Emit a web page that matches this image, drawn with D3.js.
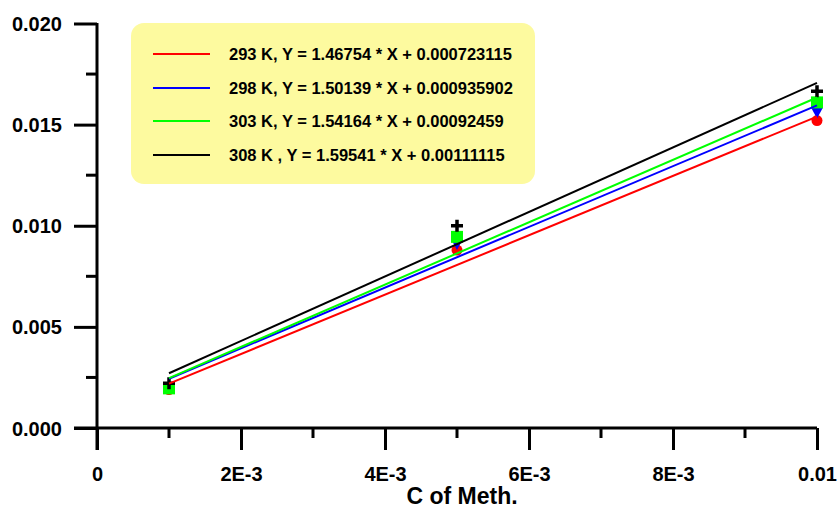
<!DOCTYPE html>
<html>
<head>
<meta charset="utf-8">
<script src="https://cdn.jsdelivr.net/npm/d3@7"></script>
<style>
  body { margin: 0; background: #fff; }
  text { font-family: Arial, "Liberation Sans", sans-serif; font-weight: bold; fill: #000; }
</style>
</head>
<body>
<svg id="chart" width="838" height="509"></svg>
<script>
// concentrations of Meth. (x)
const conc = [0.001, 0.005, 0.01]

// measured values per temperature
const temps = ['293 K', '298 K', '303 K', '308 K']
const vals293 = [0.0019, 0.0088, 0.0152]
const vals298 = [0.0020, 0.0091, 0.0156]
const vals303 = [0.00196, 0.00945, 0.0161]
const vals308 = [0.00221, 0.0100, 0.01665]

// fitted lines, slope and intercept
const slopes = [1.46754, 1.50139, 1.54164, 1.59541]
const intercepts = [0.000723115, 0.000935902, 0.00092459, 0.00111115]
const legendLabels = [
  '293 K, Y = 1.46754 * X + 0.000723115',
  '298 K, Y = 1.50139 * X + 0.000935902',
  '303 K, Y = 1.54164 * X + 0.00092459',
  '308 K , Y = 1.59541 * X + 0.00111115'
]

const xTicks = [0, 0.002, 0.004, 0.006, 0.008, 0.01]
const xTickLabels = ['0', '2E-3', '4E-3', '6E-3', '8E-3', '0.01']
const yTicks = [0, 0.005, 0.01, 0.015, 0.02]
const yTickLabels = ['0.000', '0.005', '0.010', '0.015', '0.020']

const colors = ['#ff0000', '#0000ff', '#00ff00', '#000000']
const symbols = ['circle', 'triangle', 'square', 'plus']
const allVals = [vals293, vals298, vals303, vals308]

const svg = d3.select('#chart')

let x = d3.scaleLinear().domain([0, 0.01]).range([97, 817])
let y = d3.scaleLinear().domain([0, 0.02]).range([428, 23.5])

// axes
const xAxis = svg.append('g').attr('transform', 'translate(0,428)')
xAxis.call(d3.axisBottom(x).tickValues(xTicks).tickSize(22).tickFormat((d, i) => xTickLabels[i]))
xAxis.selectAll('.tick').filter((d, i) => false)
xAxis.select('.domain').remove()
xAxis.append('line').attr('x1', 74).attr('x2', 817).attr('stroke', '#000').attr('stroke-width', 3)
xAxis.selectAll('.tick line').attr('stroke-width', 3)
xAxis.selectAll('.tick text').attr('y', 53).attr('dy', 0).style('font-size', '20px')
xAxis.selectAll('.minor').data(d3.range(0.001, 0.01, 0.002)).enter()
  .append('line')
  .attr('x1', d => x(d)).attr('x2', d => x(d))
  .attr('y1', 0).attr('y2', 10)
  .attr('stroke', '#000').attr('stroke-width', 3)

const yAxis = svg.append('g').attr('transform', 'translate(97,0)')
yAxis.call(d3.axisLeft(y).tickValues(yTicks).tickSize(23).tickFormat((d, i) => yTickLabels[i]))
yAxis.select('.domain').remove()
yAxis.append('line').attr('y1', 23).attr('y2', 450).attr('stroke', '#000').attr('stroke-width', 3)
yAxis.selectAll('.tick line').attr('stroke-width', 3)
yAxis.selectAll('.tick text').attr('x', -35).attr('dy', '0.35em').style('font-size', '20px')
yAxis.selectAll('.minor').data(d3.range(0.0025, 0.02, 0.005)).enter()
  .append('line')
  .attr('y1', d => y(d)).attr('y2', d => y(d))
  .attr('x1', 0).attr('x2', -11)
  .attr('stroke', '#000').attr('stroke-width', 3)

svg.selectAll('.tick text').attr('font-family', null).attr('font-size', null)

svg.append('text')
  .attr('x', 462).attr('y', 504)
  .attr('text-anchor', 'middle')
  .style('font-size', '23px')
  .text('C of Meth.')

// markers
const markers = svg.append('g')
allVals.forEach((vals, s) => {
  vals.forEach((v, i) => {
    let cx = x(conc[i]), cy = y(v)
    if (symbols[s] == 'circle') {
      markers.append('circle').attr('cx', cx).attr('cy', cy).attr('r', 5.5).attr('fill', colors[s])
    } else if (symbols[s] == 'triangle') {
      markers.append('path')
        .attr('d', `M${cx - 6},${cy - 5}L${cx + 6},${cy - 5}L${cx},${cy + 6}Z`)
        .attr('fill', colors[s])
    } else if (symbols[s] == 'square') {
      markers.append('rect').attr('x', cx - 6).attr('y', cy - 6).attr('width', 12).attr('height', 12).attr('fill', colors[s])
    } else {
      markers.append('path')
        .attr('d', `M${cx - 6},${cy}L${cx + 6},${cy}M${cx},${cy - 6}L${cx},${cy + 6}`)
        .attr('stroke', colors[s]).attr('stroke-width', 3.5)
    }
  })
})

// regression lines
slopes.forEach((m, s) => {
  let x0 = conc[0], x1 = conc[conc.length - 1]
  svg.append('line')
    .attr('x1', x(x0)).attr('y1', y(m * x0 + intercepts[s]))
    .attr('x2', x(x1)).attr('y2', y(m * x1 + intercepts[s]))
    .attr('stroke', colors[s]).attr('stroke-width', 2)
})

// legend
const legend = svg.append('g')
legend.append('rect')
  .attr('x', 131).attr('y', 23).attr('width', 404).attr('height', 161)
  .attr('rx', 13).attr('ry', 13)
  .attr('fill', '#fdfa9f')

const rowY = [54, 88, 121, 155]
legendLabels.forEach((label, i) => {
  legend.append('line')
    .attr('x1', 153).attr('x2', 210)
    .attr('y1', rowY[i]).attr('y2', rowY[i])
    .attr('stroke', colors[i]).attr('stroke-width', 2)
  legend.append('text')
    .attr('x', 229).attr('y', rowY[i]).attr('dy', '0.35em')
    .style('font-size', '16.5px')
    .text(label)
})
</script>
</body>
</html>
